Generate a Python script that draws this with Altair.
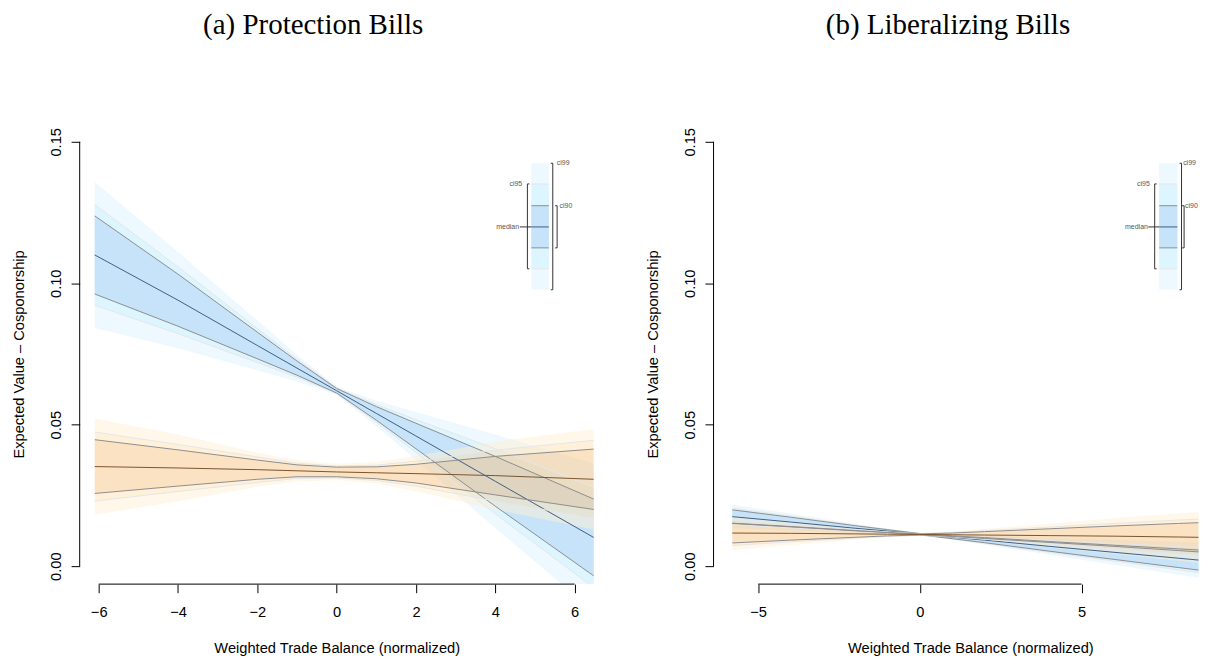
import altair as alt
import pandas as pd

# ---------------- data ----------------
# Panel (a) Protection Bills
A_X = [-6.1, -4, -2, -1, 0, 1, 2, 4, 6.5]
A_BLUE_MED = [0.1100, 0.0940, 0.0780, 0.0700, 0.0620, 0.0540, 0.0460, 0.0300, 0.0100]
A_BLUE_H90 = [0.0138, 0.0092, 0.0047, 0.0025, 0.0008, 0.0024, 0.0045, 0.0088, 0.0136]
A_BLUE_H95 = [0.0178, 0.0118, 0.0060, 0.0032, 0.0010, 0.0031, 0.0058, 0.0115, 0.0178]
A_BLUE_H99 = [0.0258, 0.0170, 0.0088, 0.0047, 0.0015, 0.0045, 0.0085, 0.0165, 0.0262]
A_ORANGE_MED = [0.0352, 0.0347, 0.0341, 0.0337, 0.0333, 0.0330, 0.0327, 0.0320, 0.0307]
A_ORANGE_H90 = [0.0095, 0.0064, 0.0034, 0.0021, 0.0017, 0.0021, 0.0033, 0.0068, 0.0107]
A_ORANGE_H95 = [0.0122, 0.0083, 0.0045, 0.0027, 0.0021, 0.0027, 0.0044, 0.0090, 0.0138]
A_ORANGE_H99 = [0.0170, 0.0118, 0.0060, 0.0038, 0.0029, 0.0038, 0.0062, 0.0120, 0.0178]

# Panel (b) Liberalizing Bills
B_X = [-5.8, -4, -2, -1, 0, 1, 2, 4, 6, 8, 9.7]
B_BLUE_MED = [0.0175, 0.0156, 0.0134, 0.0124, 0.0113, 0.0102, 0.0092, 0.0070, 0.0049, 0.0028, 0.0010]
B_BLUE_H90 = [0.0024, 0.0017, 0.0009, 0.0005, 0.0002, 0.0005, 0.0009, 0.0017, 0.0025, 0.0033, 0.0040]
B_BLUE_H95 = [0.0030, 0.0021, 0.0011, 0.0006, 0.0003, 0.0006, 0.0011, 0.0021, 0.0031, 0.0041, 0.0050]
B_BLUE_H99 = [0.0042, 0.0030, 0.0016, 0.0008, 0.0004, 0.0008, 0.0016, 0.0030, 0.0044, 0.0058, 0.0070]
B_ORANGE_MED = [0.0117, 0.0116, 0.0114, 0.0113, 0.0112, 0.0111, 0.0110, 0.0108, 0.0106, 0.0103, 0.0100]
B_ORANGE_H90 = [0.0035, 0.0024, 0.0012, 0.0006, 0.0002, 0.0006, 0.0012, 0.0024, 0.0036, 0.0048, 0.0058]
B_ORANGE_H95 = [0.0044, 0.0030, 0.0015, 0.0008, 0.0003, 0.0008, 0.0015, 0.0030, 0.0045, 0.0060, 0.0072]
B_ORANGE_H99 = [0.0060, 0.0042, 0.0021, 0.0011, 0.0004, 0.0011, 0.0021, 0.0042, 0.0063, 0.0084, 0.0100]

# axes
Y_TICKS = [0.0, 0.05, 0.10, 0.15]
A_XTICKS = [-6, -4, -2, 0, 2, 4, 6]
B_XTICKS = [-5, 0, 5]
Y_DOMAIN = [-0.00635, 0.15635]
A_DOMAIN = [-6.48, 6.48]
B_DOMAIN = [-6.38, 8.615]

# inset legend (data units)
LEG_Y99 = [0.0977, 0.1424]
LEG_Y95 = [0.1051, 0.1351]
LEG_Y90 = [0.1125, 0.1274]
LEG_YMED = 0.1199
A_LEG = dict(bar=[4.91, 5.35], b95=[4.81, 4.86], b99=[5.45, 5.40], b90=[5.56, 5.51],
             med=[4.62, 4.91], t95=4.68, t99=5.55, t90=5.62, tmed=4.60)
B_LEG = dict(bar=[7.40, 7.96], b95=[7.26, 7.32], b99=[8.09, 8.03], b90=[8.17, 8.11],
             med=[7.06, 7.40], t95=7.11, t99=8.14, t90=8.20, tmed=7.05)

SANS = "Liberation Sans"
SERIF = "Liberation Serif"

BLUE = dict(c99="#EDF8FF", c95="#DCF5FF", c90="#C6E3F9", med="#3E5F84")
ORANGE = dict(c99="#FFF0D4", c95="#FFE3B4", c90="#F7C588", med="#7A5530")
GRAY90 = "#8E8E8E"
GRAY95 = "#E6E6E6"


def table(x, med, h90, h95, h99):
    return pd.DataFrame({
        "x": x, "med": med,
        "lo90": [m - h for m, h in zip(med, h90)], "hi90": [m + h for m, h in zip(med, h90)],
        "lo95": [m - h for m, h in zip(med, h95)], "hi95": [m + h for m, h in zip(med, h95)],
        "lo99": [m - h for m, h in zip(med, h99)], "hi99": [m + h for m, h in zip(med, h99)],
    })


def panel(x, bm, b90, b95, b99, om, o90, o95, o99, xdomain, xticks, leg, title, title_dx,
          width, title_x):
    xs = alt.Scale(domain=xdomain, nice=False, zero=False)
    ys = alt.Scale(domain=Y_DOMAIN, nice=False, zero=False)
    axis_x = alt.Axis(values=xticks, format="d", domain=False, grid=False, tickSize=8.6,
                      tickColor="black", tickWidth=1, labelFont=SANS, labelFontSize=14.7,
                      labelColor="black", labelPadding=12, labelOverlap=False, labelFlush=False,
                      title="Weighted Trade Balance (normalized)", titleFont=SANS,
                      titleFontSize=14.7, titleFontWeight="normal", titleColor="black",
                      titlePadding=21, titleX=title_x)
    axis_y = alt.Axis(values=Y_TICKS, format=".2f", domain=False, grid=False, tickSize=8.6,
                      tickColor="black", tickWidth=1, labelFont=SANS, labelFontSize=14.7,
                      labelColor="black", labelAngle=270, labelAlign="center",
                      labelBaseline="bottom", labelPadding=7.3, labelOverlap=False,
                      labelFlush=False, title="Expected Value \u2013 Cosponorship",
                      titleFont=SANS, titleFontSize=14.7, titleFontWeight="normal",
                      titleColor="black", titlePadding=22)

    def X(field):
        return alt.X(f"{field}:Q", scale=xs, axis=axis_x)

    def Y(field):
        return alt.Y(f"{field}:Q", scale=ys, axis=axis_y)

    blue = table(x, bm, b90, b95, b99)
    orange = table(x, om, o90, o95, o99)

    def area(df, lo, hi, color, opacity=1.0):
        return alt.Chart(df).mark_area(clip=True, color=color, opacity=opacity, strokeWidth=0).encode(
            x=X("x"), y=Y(lo), y2=alt.Y2(f"{hi}:Q"))

    def line(df, field, color, w=1.0):
        return alt.Chart(df).mark_line(clip=True, color=color, strokeWidth=w).encode(
            x=X("x"), y=Y(field))

    layers = [
        area(blue, "lo99", "hi99", BLUE["c99"]),
        area(blue, "lo95", "hi95", BLUE["c95"]),
        area(blue, "lo90", "hi90", BLUE["c90"]),
        area(orange, "hi95", "hi99", ORANGE["c99"], 0.5),
        area(orange, "lo99", "lo95", ORANGE["c99"], 0.5),
        area(orange, "hi90", "hi95", ORANGE["c95"], 0.5),
        area(orange, "lo95", "lo90", ORANGE["c95"], 0.5),
        area(orange, "lo90", "hi90", ORANGE["c90"], 0.5),
    ]
    for df, c in ((blue, BLUE), (orange, ORANGE)):
        layers += [line(df, "hi95", GRAY95), line(df, "lo95", GRAY95),
                   line(df, "hi90", GRAY90), line(df, "lo90", GRAY90),
                   line(df, "med", c["med"])]

    # ---- inset legend ----
    rects = pd.DataFrame({
        "x": [leg["bar"][0]] * 3, "x2": [leg["bar"][1]] * 3,
        "y": [LEG_Y99[0], LEG_Y95[0], LEG_Y90[0]], "y2": [LEG_Y99[1], LEG_Y95[1], LEG_Y90[1]],
        "c": [BLUE["c99"], BLUE["c95"], BLUE["c90"]]})
    layers.append(alt.Chart(rects).mark_rect(clip=True).encode(
        x=X("x"), x2="x2:Q", y=Y("y"), y2="y2:Q",
        color=alt.Color("c:N", scale=None)))
    bx0, bx1 = leg["bar"]
    dark = "#333333"
    segs = [
        (bx0, bx1, LEG_Y95[0], LEG_Y95[0], GRAY95), (bx0, bx1, LEG_Y95[1], LEG_Y95[1], GRAY95),
        (bx0, bx1, LEG_Y90[0], LEG_Y90[0], GRAY90), (bx0, bx1, LEG_Y90[1], LEG_Y90[1], GRAY90),
        (bx0, bx1, LEG_YMED, LEG_YMED, BLUE["med"]),
        (leg["b95"][0], leg["b95"][0], LEG_Y95[0], LEG_Y95[1], dark),
        (leg["b95"][0], leg["b95"][1], LEG_Y95[0], LEG_Y95[0], dark),
        (leg["b95"][0], leg["b95"][1], LEG_Y95[1], LEG_Y95[1], dark),
        (leg["b99"][0], leg["b99"][0], LEG_Y99[0], LEG_Y99[1], dark),
        (leg["b99"][0], leg["b99"][1], LEG_Y99[0], LEG_Y99[0], dark),
        (leg["b99"][0], leg["b99"][1], LEG_Y99[1], LEG_Y99[1], dark),
        (leg["b90"][0], leg["b90"][0], LEG_Y90[0], LEG_Y90[1], dark),
        (leg["b90"][0], leg["b90"][1], LEG_Y90[0], LEG_Y90[0], dark),
        (leg["b90"][0], leg["b90"][1], LEG_Y90[1], LEG_Y90[1], dark),
        (leg["med"][0], leg["med"][1], LEG_YMED, LEG_YMED, dark),
    ]
    segdf = pd.DataFrame(segs, columns=["x", "x2", "y", "y2", "c"])
    layers.append(alt.Chart(segdf).mark_rule(clip=True, strokeWidth=1).encode(
        x=X("x"), x2="x2:Q", y=Y("y"), y2="y2:Q",
        color=alt.Color("c:N", scale=None)))
    tr = pd.DataFrame({"x": [leg["t95"], leg["tmed"]], "y": [LEG_Y95[1], LEG_YMED], "t": ["ci95", "median"]})
    tl = pd.DataFrame({"x": [leg["t99"], leg["t90"]], "y": [LEG_Y99[1], LEG_Y90[1]], "t": ["ci99", "ci90"]})
    for df, al in ((tr, "right"), (tl, "left")):
        layers.append(alt.Chart(df).mark_text(align=al, baseline="middle", font=SANS,
                                              fontSize=7, color="#555555").encode(
            x=X("x"), y=Y("y"), text="t:N"))

    # ---- axis lines (R style: only between first and last tick) ----
    yline = pd.DataFrame({"x": [xdomain[0]], "y": [Y_TICKS[0]], "y2": [Y_TICKS[-1]]})
    xline = pd.DataFrame({"x": [xticks[0]], "x2": [xticks[-1]], "y": [Y_DOMAIN[0]]})
    layers.append(alt.Chart(yline).mark_rule(color="black", strokeWidth=1).encode(
        x=X("x"), y=Y("y"), y2="y2:Q"))
    layers.append(alt.Chart(xline).mark_rule(color="black", strokeWidth=1).encode(
        x=X("x"), x2="x2:Q", y=Y("y")))

    return alt.layer(*layers).properties(
        width=width, height=461,
        title=alt.TitleParams(title, font=SERIF, fontSize=29, fontWeight="normal", color="black",
                              anchor="middle", dx=title_dx, offset=83.5))


pa = panel(A_X, A_BLUE_MED, A_BLUE_H90, A_BLUE_H95, A_BLUE_H99,
           A_ORANGE_MED, A_ORANGE_H90, A_ORANGE_H95, A_ORANGE_H99,
           A_DOMAIN, A_XTICKS, A_LEG, "(a) Protection Bills", -23.5, 514.7, 257.4)
pb = panel(B_X, B_BLUE_MED, B_BLUE_H90, B_BLUE_H95, B_BLUE_H99,
           B_ORANGE_MED, B_ORANGE_H90, B_ORANGE_H95, B_ORANGE_H99,
           B_DOMAIN, B_XTICKS, B_LEG, "(b) Liberalizing Bills", -8, 485.7, 257.2)

chart = alt.hconcat(pa, pb, spacing=51.8).properties(
    padding={"left": 3.8, "top": 2.5, "right": 0, "bottom": 0}
).configure(background="white").configure_view(stroke=None)

chart.save("out.html", embed_options={"renderer": "svg", "actions": False})
